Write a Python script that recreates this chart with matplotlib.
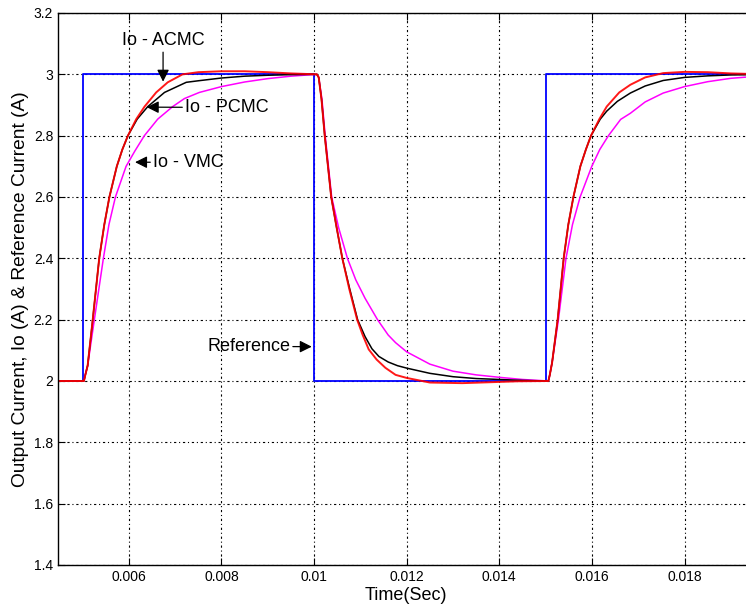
import numpy as np
import matplotlib
matplotlib.use('Agg')
import matplotlib.pyplot as plt

plt.rcParams['font.family'] = ['Liberation Sans', 'DejaVu Sans']

# reference step
ref_t = [0.00447, 0.005, 0.005, 0.010, 0.010, 0.015, 0.015, 0.0195]
ref_v = [2.0, 2.0, 3.0, 3.0, 2.0, 2.0, 3.0, 3.0]

# Io - ACMC (red)
acmc_t = [0.00447, 0.00503, 0.00506, 0.00511, 0.00522, 0.00536, 0.00547, 0.00558, 0.00574,
          0.00586, 0.00598, 0.00616, 0.00634, 0.00659, 0.00684, 0.00716, 0.00750, 0.00800,
          0.00850, 0.00900, 0.00950, 0.01006,
          0.01010, 0.01016, 0.01023, 0.01030, 0.01037, 0.01048, 0.01061, 0.01076, 0.01093,
          0.01105, 0.01118, 0.01135, 0.01154, 0.01176, 0.01200, 0.01250, 0.01320, 0.01380,
          0.01440, 0.01506,
          0.01509, 0.01514, 0.01526, 0.01539, 0.01549, 0.01560, 0.01575, 0.01587, 0.01598,
          0.01616, 0.01632, 0.01659, 0.01683, 0.01715, 0.01754, 0.01800, 0.01850, 0.01900,
          0.01950]
acmc_v = [2.0, 2.0, 2.02, 2.05, 2.2, 2.4, 2.51, 2.6, 2.7,
          2.755, 2.8, 2.854, 2.895, 2.941, 2.974, 3.0, 3.007, 3.01,
          3.01, 3.007, 3.003, 3.0,
          2.99, 2.919, 2.8, 2.7, 2.6, 2.506, 2.4, 2.3, 2.2,
          2.15, 2.103, 2.07, 2.043, 2.02, 2.01, 1.995, 1.993, 1.996,
          1.999, 2.0,
          2.02, 2.06, 2.2, 2.4, 2.51, 2.6, 2.7, 2.755, 2.8,
          2.854, 2.895, 2.941, 2.966, 2.99, 3.004, 3.008, 3.007, 3.003,
          3.001]

# Io - PCMC (black)
pcmc_t = [0.00447, 0.00503, 0.00506, 0.00511, 0.00522, 0.00536, 0.00547, 0.00558, 0.00574,
          0.00586, 0.00598, 0.00618, 0.00641, 0.00677, 0.00724, 0.00750, 0.00800, 0.00850,
          0.00900, 0.00950, 0.01006,
          0.01010, 0.01016, 0.01023, 0.01030, 0.01037, 0.01048, 0.01061, 0.01077, 0.01094,
          0.01110, 0.01125, 0.01140, 0.01160, 0.01180, 0.01200, 0.01250, 0.01300, 0.01350,
          0.01400, 0.01450, 0.01506,
          0.01509, 0.01514, 0.01526, 0.01539, 0.01549, 0.01560, 0.01575, 0.01587, 0.01598,
          0.01618, 0.01632, 0.01655, 0.01683, 0.01715, 0.01754, 0.01800, 0.01850, 0.01900,
          0.01950]
pcmc_v = [2.0, 2.0, 2.02, 2.05, 2.2, 2.4, 2.51, 2.6, 2.7,
          2.755, 2.8, 2.854, 2.895, 2.941, 2.974, 2.979, 2.988, 2.994,
          2.997, 2.999, 3.0,
          2.99, 2.919, 2.8, 2.7, 2.6, 2.506, 2.4, 2.3, 2.2,
          2.145, 2.105, 2.08, 2.062, 2.05, 2.042, 2.025, 2.014, 2.008,
          2.005, 2.002, 2.0,
          2.02, 2.06, 2.2, 2.4, 2.51, 2.6, 2.7, 2.755, 2.8,
          2.854, 2.88, 2.912, 2.939, 2.962, 2.98, 2.99, 2.995, 2.998,
          2.999]

# Io - VMC (magenta)
vmc_t = [0.00447, 0.00503, 0.00506, 0.00511, 0.005255, 0.00545, 0.00557, 0.00571, 0.00594,
         0.00613, 0.006335, 0.006624, 0.006948, 0.00720, 0.007523, 0.00800, 0.00850, 0.00900,
         0.00950, 0.01006,
         0.01010, 0.01017, 0.01024, 0.01031, 0.01038, 0.01053, 0.01072, 0.01090, 0.01110,
         0.01137, 0.01160, 0.01176, 0.01200, 0.01250, 0.01300, 0.01350, 0.01400, 0.01450,
         0.01506,
         0.01509, 0.01514, 0.015277, 0.01544, 0.01558, 0.015745, 0.015997, 0.01617, 0.016357,
         0.01662, 0.01683, 0.01715, 0.01754, 0.01800, 0.01850, 0.01900, 0.01950]
vmc_v = [2.0, 2.0, 2.02, 2.05, 2.2, 2.4, 2.51, 2.6, 2.7,
         2.75, 2.8, 2.854, 2.895, 2.921, 2.941, 2.96, 2.975, 2.986,
         2.994, 3.0,
         2.99, 2.919, 2.8, 2.7, 2.6, 2.5, 2.4, 2.33, 2.27,
         2.2, 2.15, 2.125, 2.095, 2.055, 2.032, 2.02, 2.012, 2.005,
         2.0,
         2.02, 2.06, 2.2, 2.4, 2.51, 2.6, 2.7, 2.755, 2.8,
         2.853, 2.873, 2.91, 2.939, 2.96, 2.976, 2.987, 2.993]

xticks = [0.006, 0.008, 0.010, 0.012, 0.014, 0.016, 0.018]
xticklabels = ['0.006', '0.008', '0.01', '0.012', '0.014', '0.016', '0.018']
yticks = [1.4, 1.6, 1.8, 2.0, 2.2, 2.4, 2.6, 2.8, 3.0, 3.2]
yticklabels = ['1.4', '1.6', '1.8', '2', '2.2', '2.4', '2.6', '2.8', '3', '3.2']


fig = plt.figure(figsize=(7.46, 6.10), dpi=100)
ax = fig.add_axes([58 / 746, 45 / 610, 696 / 746, 552 / 610])

ax.plot(ref_t, ref_v, color='#0000ff', lw=1.3)
ax.plot(vmc_t, vmc_v, color='#ff00ff', lw=1.1)
ax.plot(pcmc_t, pcmc_v, color='black', lw=1.1)
ax.plot(acmc_t, acmc_v, color='#ff0000', lw=1.4, alpha=0.9)

ax.set_xlim(0.00447, 0.0195)
ax.set_ylim(1.4, 3.2)
ax.set_xticks(xticks)
ax.set_xticklabels(xticklabels)
ax.set_yticks(yticks)
ax.set_yticklabels(yticklabels)
ax.tick_params(direction='in', length=5, width=0.8, labelsize=10, top=True, right=True)
ax.grid(True, color='black', lw=0.8, linestyle=(0, (2, 2.5, 1, 2.5)))
for s in ax.spines.values():
  s.set_linewidth(1.0)

ax.set_xlabel('Time(Sec)', fontsize=13, labelpad=2)
ax.set_ylabel('Output Current, Io (A) & Reference Current (A)', fontsize=13.8, labelpad=3)

arrow = dict(arrowstyle='-|>', color='black', lw=0.9, mutation_scale=18, shrinkA=0, shrinkB=0)
ax.annotate('Io - ACMC', xy=(0.006739, 2.976), xytext=(0.006739, 3.109),
            ha='center', va='center', fontsize=13, arrowprops=arrow)
ax.annotate('Io - PCMC', xy=(0.006386, 2.893), xytext=(0.007214, 2.892),
            ha='left', va='center', fontsize=13, arrowprops=arrow)
ax.annotate('Io - VMC', xy=(0.006134, 2.7135), xytext=(0.006523, 2.713),
            ha='left', va='center', fontsize=13, arrowprops=arrow)
ax.annotate('Reference', xy=(0.00995, 2.112), xytext=(0.009482, 2.1126),
            ha='right', va='center', fontsize=13, arrowprops=arrow)

fig.savefig('out.png', dpi=100)
